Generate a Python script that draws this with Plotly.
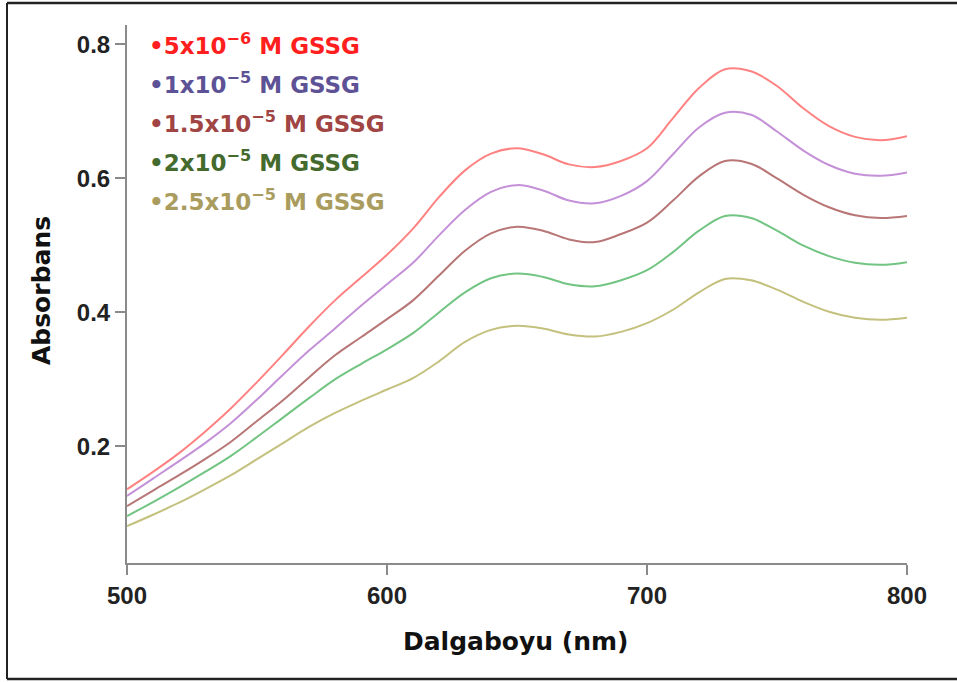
import plotly.graph_objects as go

# Wavelength grid (nm) and absorbance spectra for each GSSG concentration
wavelength = [500, 510, 520, 530, 540, 550, 560, 570, 580, 590, 600, 610, 620,
              630, 640, 650, 660, 670, 680, 690, 700, 710, 720, 730, 740, 750,
              760, 770, 780, 790, 800]

abs_5e6 = [0.136, 0.162, 0.190, 0.222, 0.257, 0.296, 0.337, 0.379, 0.418, 0.452,
           0.486, 0.525, 0.572, 0.612, 0.637, 0.645, 0.636, 0.621, 0.617, 0.626,
           0.645, 0.690, 0.735, 0.763, 0.760, 0.738, 0.705, 0.678, 0.662, 0.657,
           0.663]
abs_1e5 = [0.126, 0.152, 0.178, 0.205, 0.235, 0.270, 0.307, 0.343, 0.376, 0.410,
           0.442, 0.474, 0.515, 0.553, 0.580, 0.590, 0.582, 0.567, 0.563, 0.574,
           0.596, 0.636, 0.676, 0.698, 0.695, 0.670, 0.642, 0.620, 0.607, 0.604,
           0.609]
abs_15e5 = [0.111, 0.134, 0.157, 0.181, 0.207, 0.238, 0.269, 0.303, 0.336, 0.363,
            0.390, 0.418, 0.455, 0.492, 0.518, 0.528, 0.522, 0.509, 0.505, 0.517,
            0.534, 0.567, 0.603, 0.626, 0.622, 0.600, 0.576, 0.557, 0.545, 0.541,
            0.544]
abs_2e5 = [0.096, 0.117, 0.139, 0.162, 0.186, 0.214, 0.243, 0.272, 0.300, 0.323,
           0.345, 0.369, 0.400, 0.430, 0.451, 0.458, 0.453, 0.442, 0.439, 0.448,
           0.463, 0.490, 0.522, 0.544, 0.541, 0.522, 0.500, 0.484, 0.474, 0.471,
           0.475]
abs_25e5 = [0.081, 0.098, 0.116, 0.136, 0.157, 0.181, 0.205, 0.229, 0.250, 0.268,
            0.285, 0.302, 0.327, 0.356, 0.374, 0.380, 0.376, 0.367, 0.364, 0.371,
            0.384, 0.404, 0.430, 0.450, 0.448, 0.434, 0.416, 0.401, 0.392, 0.389,
            0.392]

series_labels = [
    "5x10<sup>\u22126</sup> M GSSG",
    "1x10<sup>\u22125</sup> M GSSG",
    "1.5x10<sup>\u22125</sup> M GSSG",
    "2x10<sup>\u22125</sup> M GSSG",
    "2.5x10<sup>\u22125</sup> M GSSG",
]
series_values = [abs_5e6, abs_1e5, abs_15e5, abs_2e5, abs_25e5]
line_colors = ["#ff8282", "#c490d8", "#b87676", "#72c482", "#c4c07e"]
label_colors = ["#ff1f1f", "#5e5296", "#a04444", "#456a2e", "#aa9c5e"]

x_ticks = [500, 600, 700, 800]
y_ticks = [0.2, 0.4, 0.6, 0.8]

fig = go.Figure()
for name, vals, col in zip(series_labels, series_values, line_colors):
    fig.add_trace(go.Scatter(
        x=wavelength, y=vals, mode="lines", name=name,
        line=dict(color=col, width=2, shape="spline", smoothing=1.0),
        showlegend=False,
    ))

axis_col = "#8a8a8a"
tick_font = dict(family="Liberation Sans, Arial", size=24, color="#222222",
                 weight="bold")
fig.update_xaxes(
    range=[500, 800], tickvals=x_ticks, ticks="outside", ticklen=10,
    tickwidth=2, tickcolor=axis_col, showline=True, linecolor=axis_col,
    linewidth=2, showgrid=False, zeroline=False, tickfont=tick_font,
)
fig.update_yaxes(
    range=[0.026, 0.829], tickvals=y_ticks, ticktext=["0.2", "0.4", "0.6", "0.8"],
    ticks="outside", ticklen=10, tickwidth=2, tickcolor=axis_col, showline=True,
    linecolor=axis_col, linewidth=2, showgrid=False, zeroline=False,
    tickfont=tick_font,
)

title_font = dict(family="DejaVu Sans, sans-serif", size=25, color="#111111",
                  weight="bold")
annotations = [
    dict(text="Dalgaboyu (nm)", xref="paper", yref="paper",
         x=(516 - 127) / 780, y=(563 - 641) / 538, xanchor="center",
         yanchor="middle", showarrow=False, font=title_font),
    dict(text="Absorbans", xref="paper", yref="paper",
         x=(41 - 127) / 780, y=(563 - 291) / 538, xanchor="center",
         yanchor="middle", textangle=-90, showarrow=False, font=title_font),
]

# Coloured series labels stacked in the upper-left corner
for i, (name, col) in enumerate(zip(series_labels, label_colors)):
    annotations.append(dict(
        text="\u2022" + name, xref="paper", yref="paper",
        x=(147 - 127) / 780, y=(563 - (44 + 39 * i)) / 538,
        xanchor="left", yanchor="middle", showarrow=False,
        font=dict(family="DejaVu Sans, sans-serif", size=23, color=col,
                  weight="bold"),
    ))

# Frame around the figure (left, top, bottom edges)
frame_col = "#222222"
fx0 = (7 - 127) / 780
fx1 = (960 - 127) / 780
fy_top = (563 - 3) / 538
fy_bot = (563 - 679) / 538
shapes = [
    dict(type="line", xref="paper", yref="paper", x0=fx0, x1=fx0,
         y0=fy_top, y1=fy_bot, line=dict(color=frame_col, width=2)),
    dict(type="line", xref="paper", yref="paper", x0=fx0, x1=fx1,
         y0=fy_top, y1=fy_top, line=dict(color=frame_col, width=2.5)),
    dict(type="line", xref="paper", yref="paper", x0=fx0, x1=fx1,
         y0=fy_bot, y1=fy_bot, line=dict(color=frame_col, width=2.5)),
]

fig.update_layout(
    width=957, height=682,
    margin=dict(l=127, r=50, t=25, b=119),
    plot_bgcolor="white", paper_bgcolor="white",
    annotations=annotations, shapes=shapes,
)

fig.write_html("out.html")
